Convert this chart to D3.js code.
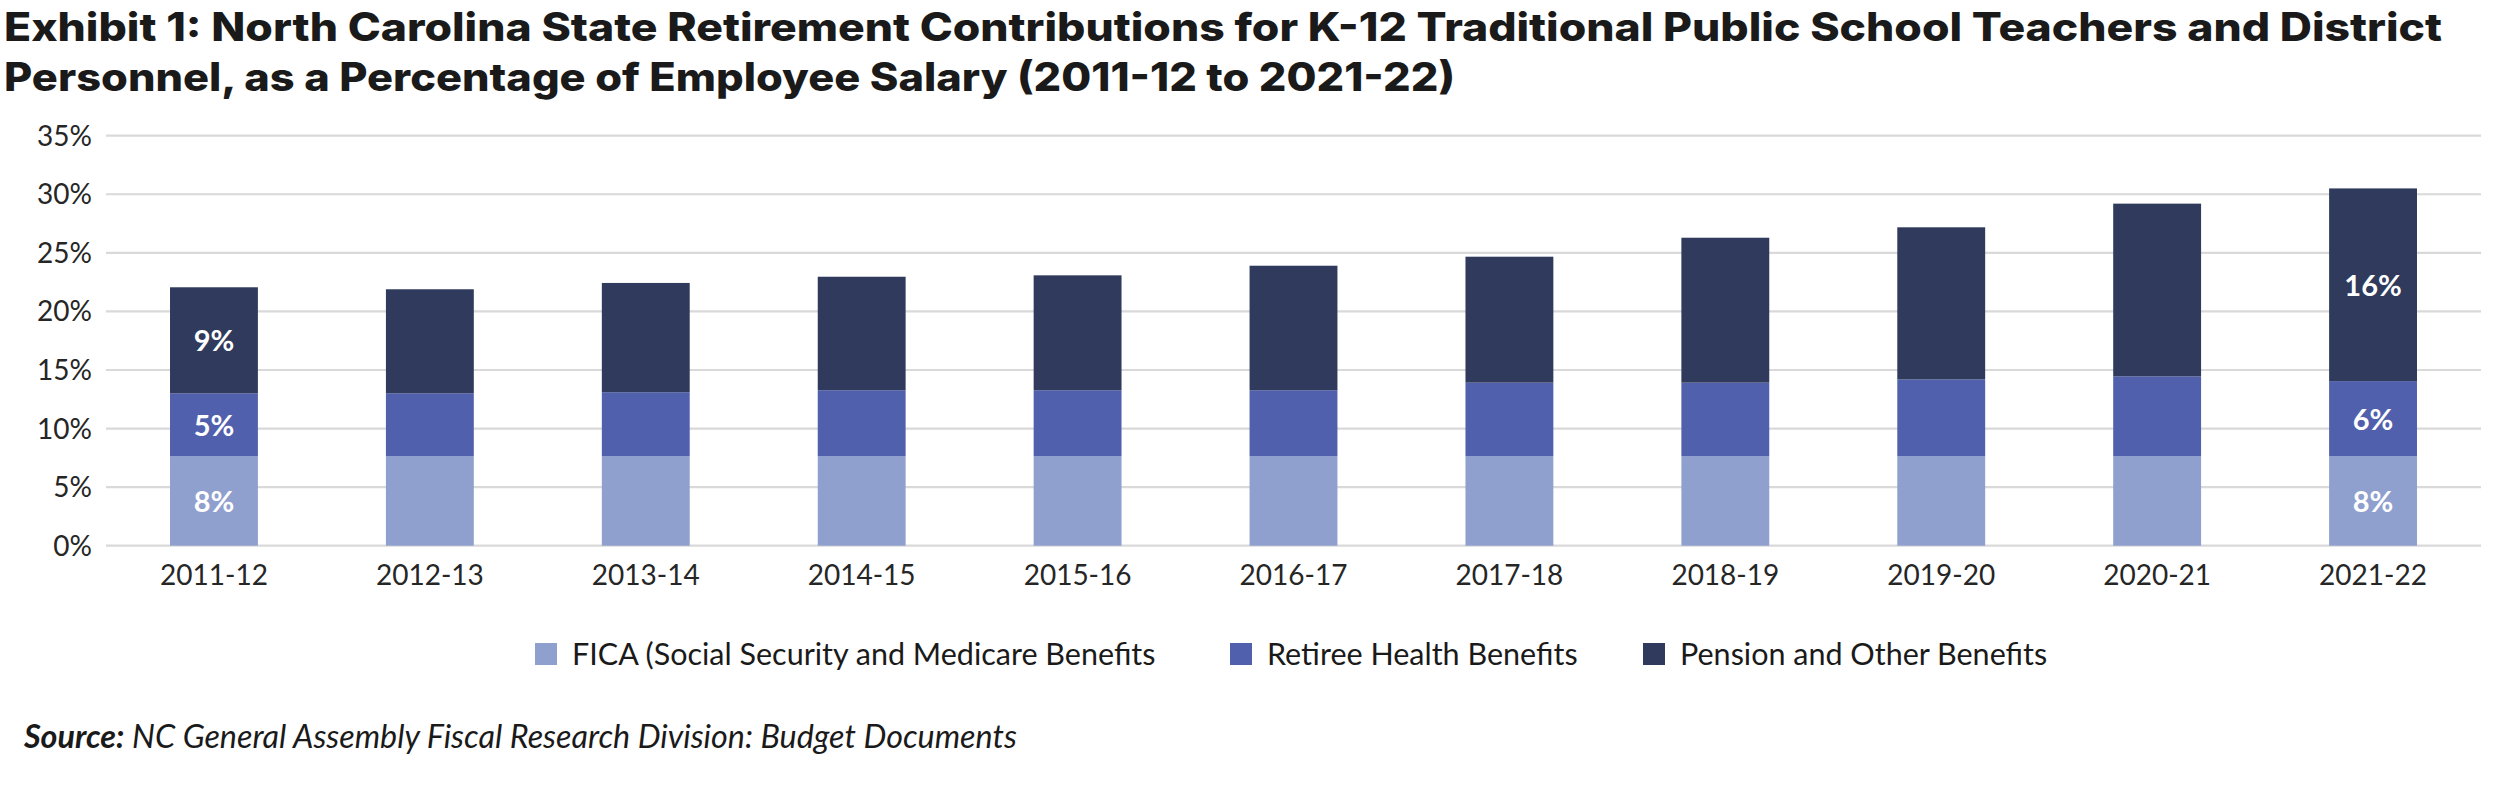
<!DOCTYPE html>
<html>
<head>
<meta charset="utf-8">
<script src="https://cdn.jsdelivr.net/npm/d3@7"></script>
<style>
  html, body { margin: 0; padding: 0; background: #ffffff; }
  svg { display: block; }
</style>
</head>
<body>
<svg id="chart" width="2505" height="799"></svg>
<script>
// ---- Data ----
const categories = ["2011-12","2012-13","2013-14","2014-15","2015-16","2016-17","2017-18","2018-19","2019-20","2020-21","2021-22"];
const fica    = [7.65, 7.65, 7.65, 7.65, 7.65, 7.65, 7.65, 7.65, 7.65, 7.65, 7.65];
const retiree = [5.36, 5.36, 5.45, 5.62, 5.62, 5.62, 6.27, 6.27, 6.55, 6.81, 6.40];
const pension = [9.05, 8.88, 9.33, 9.69, 9.81, 10.63, 10.75, 12.37, 12.98, 14.74, 16.45];
const seriesNames = ["FICA (Social Security and Medicare Benefits", "Retiree Health Benefits", "Pension and Other Benefits"];
const yTicks = [0, 5, 10, 15, 20, 25, 30, 35];
const labeledCategories = ["2011-12", "2021-22"];
const titleLines = [
  "Exhibit 1: North Carolina State Retirement Contributions for K-12 Traditional Public School Teachers and District",
  "Personnel, as a Percentage of Employee Salary (2011-12 to 2021-22)"
];
const sourceBold = "Source:";
const sourceText = " NC General Assembly Fiscal Research Division: Budget Documents";

// ---- Styles ----
const colors = ["#8fa0cf", "#5160ac", "#2f3a5c"];
const svg = d3.select("#chart");

// ---- Scales ----
const x = d3.scaleBand().domain(categories).range([106, 2481]).paddingInner(0.593).paddingOuter(0.2965);
const y = d3.scaleLinear().domain([0, 35]).range([545.7, 135.7]);

// ---- Title ----
const titleG = svg.append("g");
const titleTargets = [2442, 1455];
titleLines.forEach((t, i) => {
  const el = titleG.append("text")
    .attr("x", 4).attr("y", 41 + i * 50)
    .attr("font-family", "Inter, 'Open Sans', sans-serif")
    .attr("font-weight", 800)
    .attr("font-size", 39)
    .attr("fill", "#1a1a1a")
    .text(t);
  el.attr("textLength", titleTargets[i] - 4).attr("lengthAdjust", "spacingAndGlyphs");
});

// ---- Gridlines ----
svg.append("g").selectAll("line").data(yTicks).join("line")
  .attr("x1", 106).attr("x2", 2481)
  .attr("y1", d => y(d)).attr("y2", d => y(d))
  .attr("stroke", "#d9d9d9").attr("stroke-width", 2.2);

// ---- Y axis labels ----
svg.append("g").selectAll("text").data(yTicks).join("text")
  .attr("x", 92).attr("y", d => y(d))
  .attr("dy", "0.36em")
  .attr("text-anchor", "end")
  .attr("font-family", "Lato, sans-serif")
  .attr("font-size", 28)
  .attr("fill", "#262626")
  .text(d => d + "%");

// ---- Stack ----
const rows = categories.map((c, i) => ({ cat: c, fica: fica[i], retiree: retiree[i], pension: pension[i] }));
const keys = ["fica", "retiree", "pension"];
const stacked = d3.stack().keys(keys)(rows);

const barsG = svg.append("g");
stacked.forEach((layer, li) => {
  barsG.append("g").selectAll("rect").data(layer).join("rect")
    .attr("x", d => x(d.data.cat))
    .attr("width", x.bandwidth())
    .attr("y", d => y(d[1]))
    .attr("height", d => y(d[0]) - y(d[1]))
    .attr("fill", colors[li]);
});

// ---- Data labels ----
const labG = svg.append("g");
stacked.forEach((layer, li) => {
  labG.append("g").selectAll("text")
    .data(layer.filter(d => labeledCategories.includes(d.data.cat)))
    .join("text")
    .attr("x", d => x(d.data.cat) + x.bandwidth() / 2)
    .attr("y", d => (y(d[0]) + y(d[1])) / 2)
    .attr("dy", "0.38em")
    .attr("text-anchor", "middle")
    .attr("font-family", "Lato, sans-serif")
    .attr("font-weight", 700)
    .attr("font-size", 29)
    .attr("fill", "#ffffff")
    .text(d => Math.round(d[1] - d[0]) + "%");
});

// ---- X axis labels ----
svg.append("g").selectAll("text").data(categories).join("text")
  .attr("x", d => x(d) + x.bandwidth() / 2)
  .attr("y", 585)
  .attr("text-anchor", "middle")
  .attr("font-family", "Lato, sans-serif")
  .attr("font-size", 28)
  .attr("fill", "#262626")
  .text(d => d);

// ---- Legend ----
const legendX = [535, 1230, 1643];
const legG = svg.append("g");
seriesNames.forEach((name, i) => {
  legG.append("rect")
    .attr("x", legendX[i]).attr("y", 643)
    .attr("width", 22).attr("height", 22)
    .attr("fill", colors[i]);
  legG.append("text")
    .attr("x", legendX[i] + 37).attr("y", 654)
    .attr("dy", "0.36em")
    .attr("font-family", "Lato, sans-serif")
    .attr("font-size", 30.5)
    .attr("fill", "#1a1a1a")
    .text(name);
});

// ---- Source ----
const src = svg.append("text")
  .attr("x", 24).attr("y", 748)
  .attr("font-family", "Lato, sans-serif")
  .attr("font-style", "italic")
  .attr("font-size", 28)
  .attr("fill", "#1a1a1a");
src.append("tspan").attr("font-weight", 700).text(sourceBold);
src.append("tspan").text(sourceText);
const srcLen = src.node().getComputedTextLength();
if (srcLen > 0) src.attr("font-size", 28 * 993 / srcLen);
</script>
</body>
</html>
